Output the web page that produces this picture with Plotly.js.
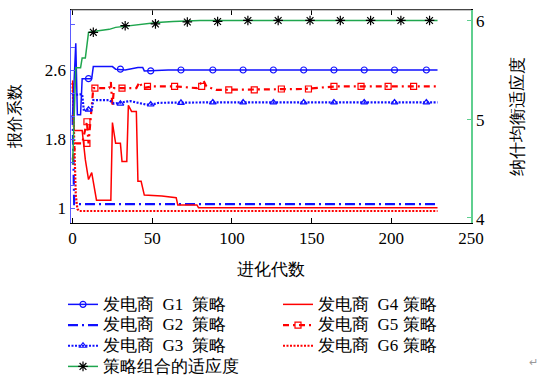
<!DOCTYPE html>
<html>
<head>
<meta charset="utf-8">
<script src="https://cdn.plot.ly/plotly-3.0.1.min.js"></script>
<style>html,body{margin:0;padding:0;background:#fff;}#chart{width:549px;height:379px;}</style>
</head>
<body>
<div id="chart"></div>
<script>
// ---- data ----
// generation index (x) and price coefficient (left axis)
const genG1 = [0,2,3,5,6,12,13,25,27,33,41,44,45,60,229];
const valG1 = [2.08,2.91,2.08,2.08,2.50,2.50,2.64,2.64,2.61,2.60,2.63,2.63,2.59,2.60,2.60];
const mkGenG1 = [10,30,49,68,88,107,126,145,164,183,202,222];
const mkValG1 = [2.50,2.61,2.59,2.60,2.60,2.60,2.60,2.60,2.60,2.60,2.60,2.60];

const genG2 = [0,1,229];
const valG2 = [2.08,1.046,1.046];

const genG3 = [0,6,7,12,13,23,26,36,46,50,54,90,229];
const valG3 = [2.31,2.32,2.14,2.14,2.25,2.25,2.21,2.24,2.20,2.20,2.22,2.225,2.225];
const mkGenG3 = [10,30,49,68,88,107,126,145,164,183,202,222];
const mkValG3 = [2.14,2.21,2.20,2.22,2.225,2.225,2.225,2.225,2.225,2.225,2.225,2.225];

const genG4 = [0,1,6,8,10,12,15,24,25,27,30,31,34,35,37,40,41,43,45,56,65,66,78,79,229];
const valG4 = [2.48,1.90,1.90,1.56,1.33,1.41,1.09,1.09,1.99,1.75,1.75,1.54,1.54,2.19,2.12,2.12,1.31,1.31,1.15,1.14,1.12,1.035,1.035,1.004,1.004];

const genG5 = [0,2,6,9,10,13,23,24,25,26,40,42,44,50,64,78,82,84,90,125,145,165,229];
const valG5 = [1.56,1.75,1.75,2.00,1.75,2.39,2.39,2.46,2.18,2.39,2.39,2.46,2.39,2.41,2.41,2.39,2.48,2.41,2.37,2.38,2.38,2.41,2.41];
const mkGenG5 = [9,9,14,31,47,64,81,98,114,131,148,164,181,198,214];
const mkValG5 = [2.00,1.75,2.39,2.39,2.41,2.41,2.41,2.37,2.37,2.38,2.38,2.41,2.41,2.41,2.41];

const genG6 = [0,1,2,3,4,229];
const valG6 = [2.45,1.60,1.15,0.99,0.965,0.965];

// fitness of strategy combination (right axis)
const genFit = [0,2,5,6,8,10,14,23,27,38,53,63,80,229];
const valFit = [4.54,5.52,5.52,5.62,5.62,5.88,5.89,5.91,5.93,5.95,5.98,5.99,6.0,6.0];
const mkGenFit = [13,33,52,72,91,110,129,149,168,187,206,224];
const mkValFit = [5.88,5.947,5.965,5.985,5.99,6.0,6.0,6.0,6.0,6.0,6.0,6.0];

const xTicks = [0,50,100,150,200,250];
const yLeftTicks = [1,1.2667,1.5333,1.8,2.0667,2.3333,2.6,2.8667,3.1333];
const yLeftText = ['1','','','1.8','','','2.6','',''];
const yRightTicks = [4,5,6];
const yRightText = ['4','5','6'];

const S = '<span style="font-size:17px">', E = '</span>';
const names = {
  g1:S+'发电商\u00a0\u00a0G1\u00a0\u00a0策略'+E,
  g2:S+'发电商\u00a0\u00a0G2\u00a0\u00a0策略'+E,
  g3:S+'发电商\u00a0\u00a0G3\u00a0\u00a0策略'+E,
  g4:S+'发电商\u00a0\u00a0G4\u00a0策略'+E,
  g5:S+'发电商\u00a0\u00a0G5\u00a0策略'+E,
  g6:S+'发电商\u00a0\u00a0G6\u00a0策略'+E,
  fit:S+'策略组合的适应度'+E
};

// ---- build traces ----
const BLUE = '#1010ff', RED = '#ff0000', GREEN = '#1fa64e';
function gapped(arr){ const out=[]; arr.forEach((v,i)=>{ if(i) out.push(null); out.push(v); }); return out; }

function lineTrace(x,y,color,dash,width,opts){
  return Object.assign({type:'scatter',mode:'lines',x:x,y:y,
    line:{color:color,dash:dash,width:width},hoverinfo:'skip'},opts||{});
}
function markTrace(x,y,color,dash,width,symbol,size,mcolor,opts){
  return Object.assign({type:'scatter',mode:'lines+markers',x:gapped(x),y:gapped(y),connectgaps:false,
    line:{color:color,dash:dash,width:width},
    marker:{symbol:symbol,size:size,color:mcolor,line:{color:mcolor,width:1.2}},hoverinfo:'skip'},opts||{});
}

const F = 'Liberation Serif';

const traces = [
  lineTrace(genFit,valFit,GREEN,'solid',1.5,{yaxis:'y2',showlegend:false}),
  markTrace(mkGenFit,mkValFit,GREEN,'solid',1.5,'asterisk-open',8,'#000',{yaxis:'y2',name:names.fit,legendrank:7}),
  lineTrace(genG2,valG2,BLUE,'10px,4px,2px,4px',2.2,{name:names.g2,legendrank:3}),
  lineTrace(genG6,valG6,RED,'2px,1.5px',2.2,{name:names.g6,legendrank:6}),
  lineTrace(genG4,valG4,RED,'solid',1.5,{name:names.g4,legendrank:2}),
  lineTrace(genG5,valG5,RED,'6px,4px,2px,4px',2.2,{showlegend:false}),
  markTrace(mkGenG5,mkValG5,RED,'6px,4px,2px,4px',2.2,'square-open',6,RED,{name:names.g5,legendrank:4}),
  lineTrace(genG3,valG3,BLUE,'2px,1.5px',2.2,{showlegend:false}),
  markTrace(mkGenG3,mkValG3,BLUE,'2px,1.5px',2.2,'triangle-up-open',6,BLUE,{name:names.g3,legendrank:5}),
  lineTrace(genG1,valG1,BLUE,'solid',1.5,{showlegend:false}),
  markTrace(mkGenG1,mkValG1,BLUE,'solid',1.5,'circle-open',6,BLUE,{name:names.g1,legendrank:1})
];

const layout = {
  width:549, height:379,
  margin:{l:71,r:78,t:10,b:156,autoexpand:false},
  paper_bgcolor:'#fff', plot_bgcolor:'#fff',
  font:{family:F,color:'#000',size:16},
  showlegend:true,
  xaxis:{range:[-1,250],tickvals:xTicks,ticktext:xTicks.map(String),ticks:'inside',ticklen:5,tickcolor:'#000',
    showline:true,linecolor:'#000',linewidth:1,mirror:'ticks',showgrid:false,zeroline:false,automargin:false,
    tickfont:{family:F,size:17,color:'#000'},
    title:{text:'进化代数',font:{family:F,size:17,color:'#000'},standoff:15}},
  yaxis:{range:[0.826,3.296],tickvals:yLeftTicks,ticktext:yLeftText,ticks:'inside',ticklen:4,tickcolor:'#5b5bff',
    showline:true,linecolor:'#5b5bff',linewidth:1.5,showgrid:false,zeroline:false,automargin:false,
    tickfont:{family:F,size:17,color:'#000'},
    title:{text:'报价系数',font:{family:F,size:16,color:'#000'},standoff:20}},
  yaxis2:{overlaying:'y',side:'right',range:[3.949,6.106],tickvals:yRightTicks,ticktext:yRightText,ticks:'inside',ticklen:4,
    ticklabelshift:1,
    tickcolor:'#5fcf8f',showline:true,linecolor:'#5fcf8f',linewidth:1.5,showgrid:false,zeroline:false,automargin:false,
    tickfont:{family:F,size:17,color:'#000'},
    title:{text:'纳什均衡适应度',font:{family:F,size:17,color:'#000'},standoff:27}},
  legend:{orientation:'h',x:-0.02,xanchor:'left',y:-0.31,yanchor:'top',entrywidth:170,entrywidthmode:'pixels',
    traceorder:'normal',font:{family:F,size:13.6,color:'#000'},bgcolor:'rgba(0,0,0,0)',itemwidth:30},
  shapes:[{type:'line',xref:'paper',yref:'paper',x0:0,x1:1,y0:1,y1:1,line:{color:'#8c8c8c',width:1},layer:'above'}],
  annotations:[{text:'\u21b5',xref:'paper',yref:'paper',x:1.172,y:-0.69,showarrow:false,font:{size:11,color:'#999'}}]
};

Plotly.newPlot('chart',traces,layout,{staticPlot:true,displayModeBar:false});
</script>
</body>
</html>
